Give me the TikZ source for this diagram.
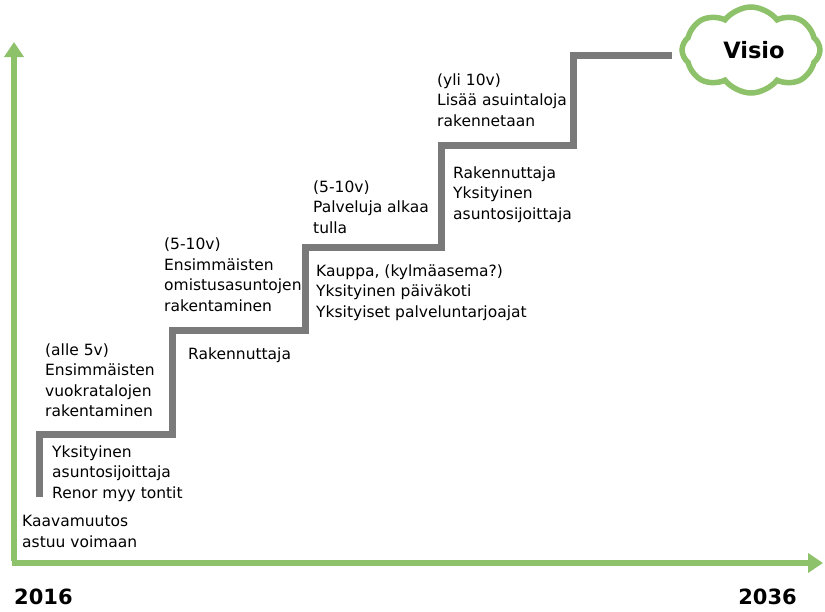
\documentclass[tikz,border=0pt]{standalone}
\usepackage{fontspec}
\setmainfont{DejaVu Sans}
\usetikzlibrary{arrows.meta,shapes.symbols}

\definecolor{axisgreen}{RGB}{141,194,106}
\definecolor{stairgray}{RGB}{122,122,122}

\tikzset{
  axisline/.style={draw=axisgreen, line width=5.5pt,
    -{Triangle[width=19pt,length=15pt]}},
  stairline/.style={draw=stairgray, line width=7pt, line join=miter},
  note/.style={anchor=north west, inner sep=0pt, align=left,
    font=\fontsize{15.5}{20.5}\selectfont},
  yearlabel/.style={inner sep=0pt, font=\fontsize{21}{24}\selectfont\bfseries},
  visioncloud/.style={cloud, cloud puffs=8, cloud puff arc=105, aspect=1.6,
    draw=axisgreen, line width=5.5pt, fill=white,
    minimum width=138pt, minimum height=86pt, inner sep=0pt}
}

\begin{document}
\begin{tikzpicture}[x=1pt, y=-1pt]
  \useasboundingbox (0,0) rectangle (825,611);

  % time axes
  \coordinate (origin) at (14,563);
  \coordinate (ytop) at (14,42);
  \coordinate (xend) at (823,563);
  \draw[axisline] ([yshift=2.5pt]origin) -- (ytop);
  \draw[axisline] ([xshift=-2pt]origin) -- (xend);

  % staircase corners
  \coordinate (s0) at (39,497);
  \coordinate (s1) at (39,434);
  \coordinate (s2) at (172,434);
  \coordinate (s3) at (172,330);
  \coordinate (s4) at (305,330);
  \coordinate (s5) at (305,247);
  \coordinate (s6) at (441,247);
  \coordinate (s7) at (441,145);
  \coordinate (s8) at (573,145);
  \coordinate (s9) at (573,55);
  \coordinate (s10) at (672,55);
  \draw[stairline] (s0) -- (s1) -- (s2) -- (s3) -- (s4) -- (s5) -- (s6)
    -- (s7) -- (s8) -- (s9) -- (s10);

  % vision cloud
  \node[visioncloud] (cloud) at (751,50) {};
  \node[font=\fontsize{22.5}{26}\selectfont\bfseries, inner sep=0pt] (visio)
    at (754,50) {Visio};

  % notes along the steps
  \node[note] (kaava) at (22,515.4) {Kaavamuutos\\astuu voimaan};
  \node[note] (yks1) at (52,445.4) {Yksityinen\\asuntosijoittaja\\Renor myy tontit};
  \node[note] (alle) at (45,343.4) {(alle 5v)\\Ensimmäisten\\vuokratalojen\\rakentaminen};
  \node[note] (rak1) at (188,347.4) {Rakennuttaja};
  \node[note] (omist) at (164,238) {(5-10v)\\Ensimmäisten\\omistusasuntojen\\rakentaminen};
  \node[note] (kauppa) at (316,264.4) {Kauppa, (kylmäasema?)\\Yksityinen päiväkoti\\Yksityiset palveluntarjoajat};
  \node[note] (palv) at (313,180.4) {(5-10v)\\Palveluja alkaa\\tulla};
  \node[note] (rak2) at (453,166.4) {Rakennuttaja\\Yksityinen\\asuntosijoittaja};
  \node[note] (yli) at (437,73.4) {(yli 10v)\\Lisää asuintaloja\\rakennetaan};

  % years
  \node[yearlabel, anchor=base west] (y2016) at (14,604) {2016};
  \node[yearlabel, anchor=base east] (y2036) at (797,604) {2036};
\end{tikzpicture}
\end{document}
